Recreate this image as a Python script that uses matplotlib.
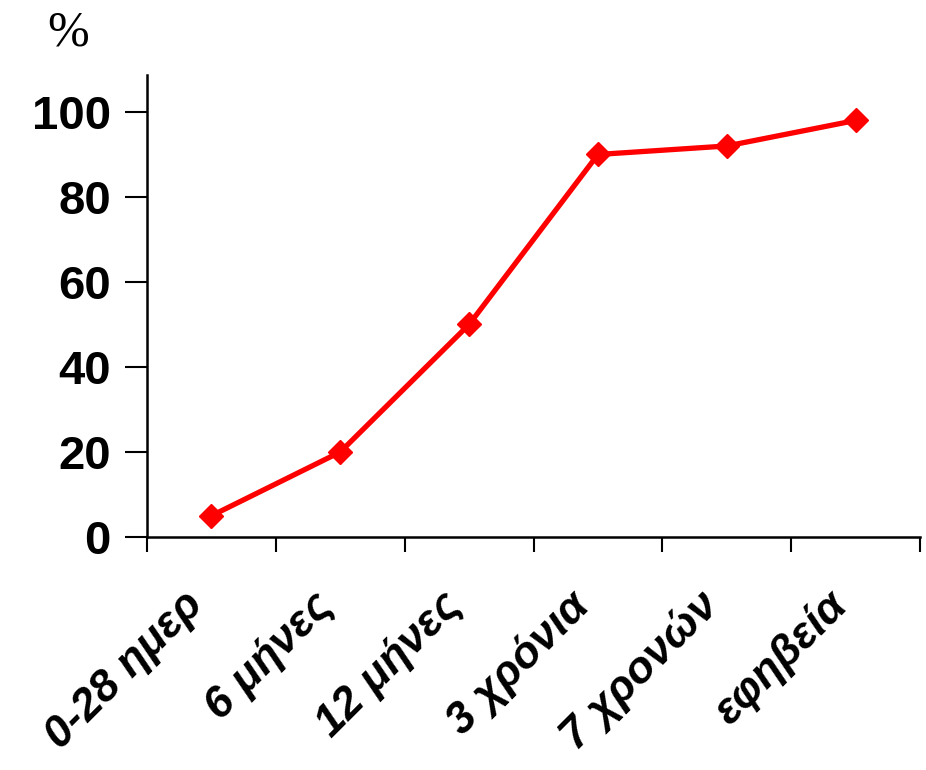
import matplotlib
matplotlib.use('Agg')
import numpy as np
from matplotlib import pyplot as plt

# Age groups and percentages
ages = ['0-28 ημερ', '6 μήνες', '12 μήνες', '3 χρόνια', '7 χρονών', 'εφηβεία']
percent = [5, 20, 50, 90, 92, 98]

plt.rcParams['font.family'] = ['Liberation Sans', 'DejaVu Sans']

fig = plt.figure(figsize=(9.26, 7.70), dpi=100)
ax = fig.add_axes([147/926, 1-537/770, (920-147)/926, (537-75)/770])

x = np.arange(len(ages)) + 0.5
ax.plot(x, percent, color='#ff0000', lw=3.8, marker='D', ms=12, mfc='#ff0000', mec='#ff0000')

ax.set_xlim(0, len(ages))
ax.set_ylim(0, 108.7)

# Tick marks on category boundaries, labels under category centres
ax.set_xticks(np.arange(len(ages)+1))
ax.set_xticklabels([])
ax.set_xticks(x, minor=True)
ax.set_xticklabels(ages, minor=True, rotation=45, ha='right', va='top',
                   fontsize=32, fontweight='bold', fontstyle='italic')
ax.tick_params(axis='x', which='minor', length=0, pad=34)
ax.tick_params(axis='x', which='major', direction='out', length=11, width=1.5)

ax.set_yticks([0, 20, 40, 60, 80, 100])
ax.tick_params(axis='y', direction='out', length=16, width=1.5, labelsize=34, pad=10)
for lbl in ax.get_yticklabels():
    lbl.set_fontweight('bold')

for side in ('top', 'right'):
    ax.spines[side].set_visible(False)
for side in ('left', 'bottom'):
    ax.spines[side].set_linewidth(1.8)

fig.text(68/926, 1-33/770, '%', fontsize=36, family='Liberation Serif', ha='center', va='center')

fig.savefig('out.png', dpi=100)
